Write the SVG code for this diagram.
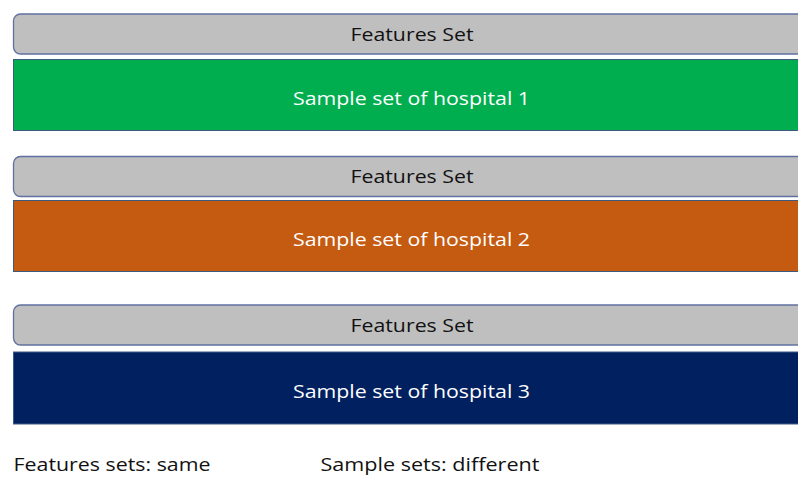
<svg xmlns="http://www.w3.org/2000/svg" width="798" height="477" viewBox="0 0 798 477">
<style>
.feat{fill:#BFBFBF;stroke:#6070A0;stroke-width:1.3}
.samp{stroke:#3F5A80;stroke-width:1}
text{font-family:"Open Sans","Liberation Sans",sans-serif;font-size:19px}
.dark{fill:#111111;text-anchor:middle}
.light{fill:#FFFFFF;text-anchor:middle}
.note{fill:#111111}
</style>
<rect width="798" height="477" fill="#FFFFFF"/>
<g id="features1">
<rect class="feat" x="13.5" y="14" width="800" height="40" rx="7"/>
<text class="dark" x="412" y="40.5" textLength="123" lengthAdjust="spacingAndGlyphs">Features Set</text>
</g>
<g id="hospital1">
<rect class="samp" x="13.5" y="59.5" width="800" height="71" fill="#00AE4F"/>
<text class="light" x="411.5" y="104.5" textLength="237" lengthAdjust="spacingAndGlyphs">Sample set of hospital 1</text>
</g>
<g id="features2">
<rect class="feat" x="13.5" y="156.5" width="800" height="40" rx="7"/>
<text class="dark" x="412" y="183" textLength="123" lengthAdjust="spacingAndGlyphs">Features Set</text>
</g>
<g id="hospital2">
<rect class="samp" x="13.5" y="200.5" width="800" height="71" fill="#C55A11"/>
<text class="light" x="411.5" y="245.5" textLength="237" lengthAdjust="spacingAndGlyphs">Sample set of hospital 2</text>
</g>
<g id="features3">
<rect class="feat" x="13.5" y="305" width="800" height="40" rx="7"/>
<text class="dark" x="412" y="331.5" textLength="123" lengthAdjust="spacingAndGlyphs">Features Set</text>
</g>
<g id="hospital3">
<rect class="samp" x="13.5" y="352" width="800" height="72" fill="#002060"/>
<text class="light" x="411.5" y="397.5" textLength="237" lengthAdjust="spacingAndGlyphs">Sample set of hospital 3</text>
</g>
<g id="connectors"></g>
<g id="notes">
<text class="note" x="13.5" y="470.5" textLength="197" lengthAdjust="spacingAndGlyphs">Features sets: same</text>
<text class="note" x="320.5" y="470.5" textLength="219" lengthAdjust="spacingAndGlyphs">Sample sets: different</text>
</g>
</svg>
